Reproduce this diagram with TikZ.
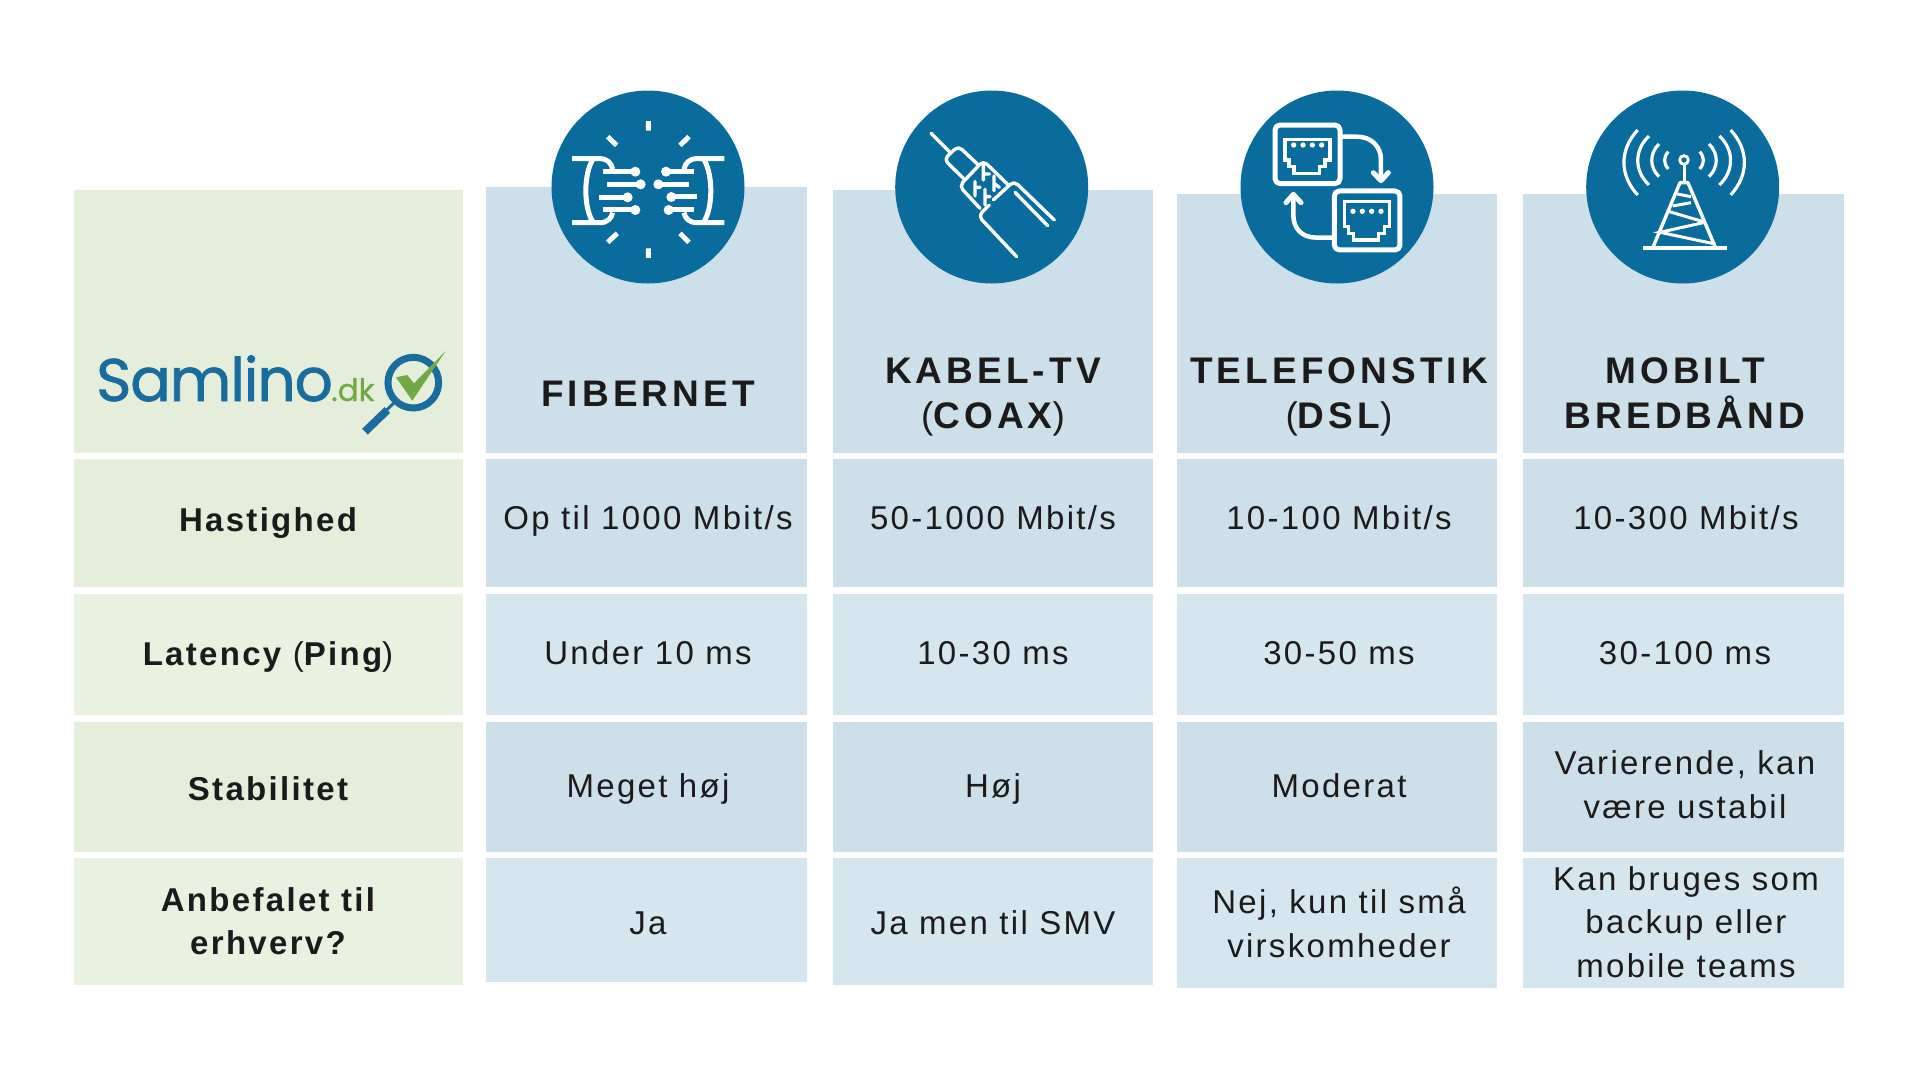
\documentclass[tikz,border=0pt]{standalone}
\usepackage{fontspec}
\setmainfont{Liberation Sans}
\newfontfamily\bodyf[LetterSpace=7]{Liberation Sans}
\newfontfamily\headf[LetterSpace=11]{Liberation Sans}
\newfontfamily\labf[LetterSpace=7]{Liberation Sans}
\newfontfamily\logof[FakeBold=1.2,LetterSpace=-2]{Poppins}
\newfontfamily\logotf[FakeBold=0.6]{Poppins}
\definecolor{gA}{HTML}{E5EEDA}
\definecolor{gB}{HTML}{E9F1E1}
\definecolor{bA}{HTML}{CDE0EA}
\definecolor{bB}{HTML}{D6E6EF}
\definecolor{circ}{HTML}{096C9D}
\definecolor{logoblue}{HTML}{1A6C9E}
\definecolor{logogreen}{HTML}{72A846}
\definecolor{ink}{HTML}{1B1B1B}
\newcommand{\thinp}[1]{{\mdseries #1}}
\tikzset{
 x=1pt,y=-1pt,
 bodytext/.style={font=\bodyf\fontsize{33}{43.5}\selectfont,text=ink,align=center,inner sep=0pt,anchor=base},
 labeltext/.style={font=\labf\bfseries\fontsize{33}{43}\selectfont,text=ink,align=center,inner sep=0pt,anchor=base},
 headtext/.style={font=\headf\bfseries\fontsize{37}{45}\selectfont,text=ink,align=center,inner sep=0pt,anchor=base},
 badge/.style={circle,fill=circ,minimum size=193pt,inner sep=0pt},
 ico/.style={draw=white,line width=3.4pt,line cap=round,line join=round},
 icobutt/.style={draw=white,line width=5pt},
}
\begin{document}
\begin{tikzpicture}
\useasboundingbox (0,0) rectangle (1920,1080);
\fill[white] (0,0) rectangle (1920,1080);
% green column
\fill[gA] (73.5,190) rectangle (463,453);
\fill[gA] (73.5,459) rectangle (463,587);
\fill[gB] (73.5,594) rectangle (463,715);
\fill[gA] (73.5,722) rectangle (463,852);
\fill[gB] (73.5,858) rectangle (463,985);
% col 1
\fill[bA] (486,187) rectangle (807,453);
\fill[bA] (486,459) rectangle (807,587);
\fill[bB] (486,594) rectangle (807,715);
\fill[bA] (486,722) rectangle (807,852);
\fill[bB] (486,858) rectangle (807,982);
% col 2
\fill[bA] (832.5,190) rectangle (1153,453);
\fill[bA] (832.5,459) rectangle (1153,587);
\fill[bB] (832.5,594) rectangle (1153,715);
\fill[bA] (832.5,722) rectangle (1153,852);
\fill[bB] (832.5,858) rectangle (1153,985);
% col 3
\fill[bA] (1177,194) rectangle (1497,453);
\fill[bA] (1177,459) rectangle (1497,587);
\fill[bB] (1177,594) rectangle (1497,715);
\fill[bA] (1177,722) rectangle (1497,852);
\fill[bB] (1177,858) rectangle (1497,988);
% col 4
\fill[bA] (1523,194) rectangle (1844,453);
\fill[bA] (1523,459) rectangle (1844,587);
\fill[bB] (1523,594) rectangle (1844,715);
\fill[bA] (1523,722) rectangle (1844,852);
\fill[bB] (1523,858) rectangle (1844,988);
% badges
\node[badge] (b1) at (648,187) {};
\node[badge] (b2) at (991.7,187) {};
\node[badge] (b3) at (1337,187) {};
\node[badge] (b4) at (1682.7,187) {};
% fibre icon
\begin{scope}[shift={(530,70)},x=0.3333pt,y=-0.3333pt]
\draw[icobutt] (355,153)--(355,182) (355,535)--(355,564) (233,200)--(260,226) (477,200)--(450,226) (233,517)--(262,490) (477,517)--(450,490);
\draw[icobutt] (126,266)--(210,266) .. controls (232,266) and (245,280) .. (248,298);
\draw[icobutt] (126,458)--(210,458) .. controls (232,458) and (245,445) .. (248,428);
\draw[icobutt] (190,266) .. controls (160,310) and (160,415) .. (190,458);
\draw[icobutt] (583,266)--(500,266) .. controls (478,266) and (465,280) .. (462,298);
\draw[icobutt] (583,458)--(500,458) .. controls (478,458) and (465,445) .. (462,428);
\draw[icobutt] (520,266) .. controls (550,310) and (550,415) .. (520,458);
\draw[icobutt] (218,305)--(316,305) (232,343)--(332,343) (208,382)--(293,382) (218,420)--(316,420);
\draw[icobutt] (492,305)--(408,305) (478,343)--(385,343) (500,381)--(424,381) (492,420)--(416,420);
\fill[white] (316,305) circle[radius=15] (332,343) circle[radius=15] (293,382) circle[radius=15] (316,420) circle[radius=15] (408,305) circle[radius=15] (385,343) circle[radius=15] (424,381) circle[radius=15] (416,420) circle[radius=15];
\end{scope}
% coax icon
\begin{scope}[shift={(870,70)},x=0.3333pt,y=-0.3333pt]
\draw[ico] (183,190)--(238,245);
\draw[ico,rounded corners=5pt] (280,325)--(222,268)--(265,228)--(325,285);
\draw[ico,rounded corners=5pt] (330,415)--(268,348)--(340,272)--(415,345);
\draw[ico,rounded corners=5pt] (370,390)--(432,333)--(553,450);
\draw[ico] (435,367)--(533,467);
\draw[ico,rounded corners=5pt] (358,405)--(325,438)--(440,560);
\draw[ico] (340,285)--(340,330) (340,312)--(358,312) (372,318)--(372,362) (372,340)--(388,352) (315,335)--(315,378) (315,352)--(330,352) (345,358)--(345,405) (345,380)--(360,380);
\end{scope}
% dsl icon
\begin{scope}[shift={(1220,70)},x=0.3333pt,y=-0.3333pt]
\draw[ico,line width=5pt,rounded corners=5pt] (165,165) rectangle (360,341);
\draw[ico,line width=5pt,rounded corners=5pt] (343,363) rectangle (540,540);
\draw[ico,line cap=butt,line join=miter] (195,208)--(330,208)--(330,270)--(315,270)--(315,290)--(298,290)--(298,310)--(222,310)--(222,290)--(207,290)--(207,270)--(195,270)--cycle;
\draw[ico,line cap=butt,line join=miter] (373,395)--(508,395)--(508,470)--(493,470)--(493,490)--(476,490)--(476,510)--(400,510)--(400,490)--(385,490)--(385,470)--(373,470)--cycle;
\fill[white] (221,225) circle[radius=8] (249,225) circle[radius=8] (277,225) circle[radius=8] (305,225) circle[radius=8];
\fill[white] (399,424) circle[radius=8] (427,424) circle[radius=8] (455,424) circle[radius=8] (483,424) circle[radius=8];
\draw[ico,line width=4.5pt,line cap=butt] (365,200)--(410,200) .. controls (455,200) and (483,230) .. (483,270)--(483,330);
\draw[ico,line width=5pt] (460,308)--(483,332)--(505,308);
\draw[ico,line width=4.5pt,line cap=butt] (338,503)--(290,503) .. controls (245,503) and (220,475) .. (220,435)--(220,375);
\draw[ico,line width=5pt] (198,398)--(220,373)--(243,398);
\end{scope}
% tower icon
\begin{scope}[shift={(1540,70)},x=0.3333pt,y=-0.3333pt]
\draw[draw=white,line width=3.4pt] (309,534)--(560,534);
\draw[draw=white,line width=3.4pt,line join=round] (338,534)--(420,338)--(444,338)--(527,534);
\draw[draw=white,line width=3pt] (432,285)--(432,338);
\draw[draw=white,line width=2.8pt] (432,270) circle[radius=13];
\draw[draw=white,line width=3pt] (412,372)--(453,380) (453,398)--(398,408) (388,425)--(490,455) (490,458)--(360,487)--(525,522);
\draw[draw=white,line width=3.2pt] (385,245) .. controls (370,262) and (370,280) .. (385,297);
\draw[draw=white,line width=3.2pt] (357,222) .. controls (328,250) and (328,292) .. (357,320);
\draw[draw=white,line width=3.2pt] (327,198) .. controls (282,240) and (282,303) .. (327,345);
\draw[draw=white,line width=3.2pt] (293,180) .. controls (238,240) and (238,315) .. (293,375);
\draw[draw=white,line width=3.2pt] (479,245) .. controls (494,262) and (494,280) .. (479,297);
\draw[draw=white,line width=3.2pt] (507,222) .. controls (536,250) and (536,292) .. (507,320);
\draw[draw=white,line width=3.2pt] (538,198) .. controls (583,240) and (583,303) .. (538,345);
\draw[draw=white,line width=3.2pt] (572,180) .. controls (627,240) and (627,315) .. (572,375);
\end{scope}
% logo
\node[anchor=base west,inner sep=0pt,text=logoblue,font=\logof\fontsize{60}{60}\selectfont] (logoname) at (96,401) {Samlino};
\node[anchor=base west,inner sep=0pt,text=logogreen,font=\logotf\fontsize{31}{31}\selectfont] (logotld) at (331,401) {.dk};
\begin{scope}[shift={(70,320)},x=0.3333pt,y=-0.3333pt]
\draw[logoblue,line width=7pt] (1030,188) circle[radius=76];
\draw[logoblue,line width=3pt] (975,245)--(945,275);
\draw[logoblue,line width=8pt] (952,270)--(885,335);
\fill[logogreen] (978,172)--(1012,165)--(1032,190)--(1127,93)--(1027,242)--cycle;
\end{scope}
% headers
\node[headtext] (h1) at (648,406) {FIBERNET};
\node[headtext] (h2) at (993,428) {KABEL-TV\\\thinp{(}COAX\thinp{)}};
\node[headtext] (h3) at (1339,428) {TELEFONSTIK\\\thinp{(}DSL\thinp{)}};
\node[headtext] (h4) at (1685,428) {MOBILT\\BREDBÅND};
% row labels
\node[labeltext] (l1) at (268,531.5) {Hastighed};
\node[labeltext] (l2) at (268,665) {Latency \thinp{(}Ping\thinp{)}};
\node[labeltext] (l3) at (268,800) {Stabilitet};
\node[labeltext] (l4) at (268,954.5) {Anbefalet til\\erhverv?};
% row 1
\node[bodytext] (c11) at (648,529) {Op til 1000 Mbit/s};
\node[bodytext] (c12) at (993,529) {50-1000 Mbit/s};
\node[bodytext] (c13) at (1339,529) {10-100 Mbit/s};
\node[bodytext] (c14) at (1686,529) {10-300 Mbit/s};
% row 2
\node[bodytext] (c21) at (648,664.5) {Under 10 ms};
\node[bodytext] (c22) at (993,664.5) {10-30 ms};
\node[bodytext] (c23) at (1339,664.5) {30-50 ms};
\node[bodytext] (c24) at (1685,664.5) {30-100 ms};
% row 3
\node[bodytext] (c31) at (648,797.5) {Meget høj};
\node[bodytext] (c32) at (993,797.5) {Høj};
\node[bodytext] (c33) at (1339,797.5) {Moderat};
\node[bodytext] (c34) at (1685,818) {Varierende, kan\\være ustabil};
% row 4
\node[bodytext] (c41) at (648,934.5) {Ja};
\node[bodytext] (c42) at (993,934.5) {Ja men til SMV};
\node[bodytext] (c43) at (1339,957) {Nej, kun til små\\virskomheder};
\node[bodytext] (c44) at (1686,977) {Kan bruges som\\backup eller\\mobile teams};
\end{tikzpicture}
\end{document}
